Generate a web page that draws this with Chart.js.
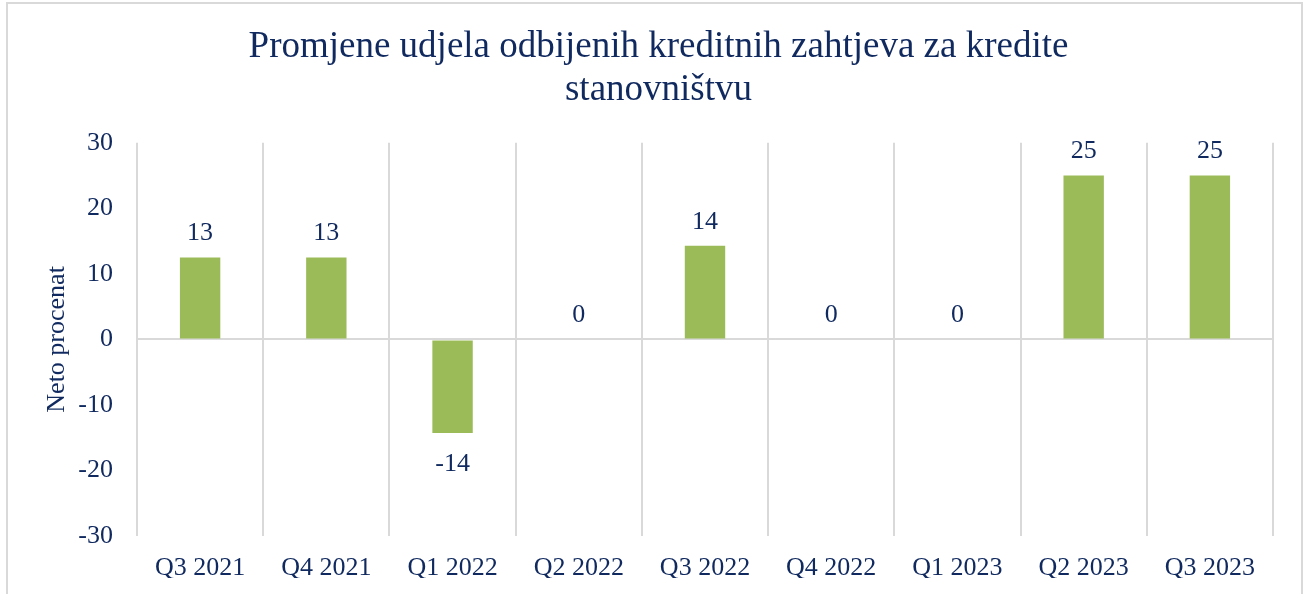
<!DOCTYPE html>
<html>
<head>
<meta charset="utf-8">
<script src="https://cdn.jsdelivr.net/npm/chart.js@4"></script>
<style>
    html, body { margin: 0; padding: 0; background: #ffffff; }
    #frame {
        position: absolute; left: 6px; top: 2px; width: 1297px; height: 640px;
        border: 2px solid #d9d9d9; box-sizing: border-box;
    }
    #wrap { position: absolute; left: 0; top: 0; width: 1304px; height: 594px; }
</style>
</head>
<body>
<div id="frame"></div>
<div id="wrap"><canvas id="rejChart"></canvas></div>
<script>
const categories = ['Q3 2021', 'Q4 2021', 'Q1 2022', 'Q2 2022', 'Q3 2022', 'Q4 2022', 'Q1 2023', 'Q2 2023', 'Q3 2023'];
const netPercent = [12.5, 12.5, -14.3, 0, 14.3, 0, 0, 25, 25];
const yTicks = [-30, -20, -10, 0, 10, 20, 30];

const navy = '#10295e';
const serif = "'Liberation Serif', 'Times New Roman', serif";

// oznake vrijednosti iznad / ispod stubaca
const valueLabels = {
    id: 'valueLabels',
    afterDatasetsDraw(chart) {
        const ctx = chart.ctx;
        const meta = chart.getDatasetMeta(0);
        const y = chart.scales.y;
        ctx.save();
        ctx.font = '26px ' + serif;
        ctx.fillStyle = navy;
        ctx.textAlign = 'center';
        ctx.textBaseline = 'middle';
        meta.data.forEach((bar, i) => {
            const v = netPercent[i];
            const py = v < 0 ? y.getPixelForValue(v) + 31 : y.getPixelForValue(v) - 24;
            ctx.fillText(String(Math.round(v)), bar.x, py);
        });
        ctx.restore();
    }
};

const ctx = document.getElementById('rejChart').getContext('2d');
const rejChart = new Chart(ctx, {
    type: 'bar',
    data: {
        labels: categories,
        datasets: [{
            label: 'Neto procenat',
            data: netPercent,
            backgroundColor: '#9bbb59',
            borderWidth: 0,
            categoryPercentage: 1,
            barPercentage: 0.32
        }]
    },
    options: {
        responsive: true,
        maintainAspectRatio: false,
        animation: false,
        layout: {
            padding: { left: 44, right: 31, top: 0, bottom: 16 }
        },
        scales: {
            x: {
                offset: true,
                grid: {
                    offset: true,
                    color: '#d9d9d9',
                    lineWidth: 2,
                    drawTicks: false
                },
                border: { display: false },
                ticks: {
                    padding: 17,
                    color: navy,
                    font: { size: 26, family: serif }
                },
                afterFit(scale) { scale.height = 42; }
            },
            y: {
                min: -30,
                max: 30,
                afterBuildTicks(scale) { scale.ticks = yTicks.map(v => ({ value: v })); },
                grid: {
                    drawTicks: false,
                    lineWidth: 2,
                    color: c => c.tick && c.tick.value === 0 ? '#d9d9d9' : 'rgba(0,0,0,0)'
                },
                border: { display: false },
                ticks: {
                    padding: 24,
                    color: navy,
                    font: { size: 26, family: serif }
                },
                title: {
                    display: true,
                    text: 'Neto procenat',
                    color: navy,
                    padding: { top: 0, bottom: 0 },
                    font: { size: 26, family: serif, lineHeight: 1.0 }
                },
                afterFit(scale) { scale.width = 93; }
            }
        },
        plugins: {
            legend: { display: false },
            tooltip: { enabled: false },
            title: {
                display: true,
                text: ['Promjene udjela odbijenih kreditnih zahtjeva za kredite', 'stanovništvu'],
                color: navy,
                padding: { top: 26, bottom: 31 },
                font: { size: 37, family: serif, weight: 'normal', lineHeight: 1.16 }
            }
        }
    },
    plugins: [valueLabels]
});
</script>
</body>
</html>
